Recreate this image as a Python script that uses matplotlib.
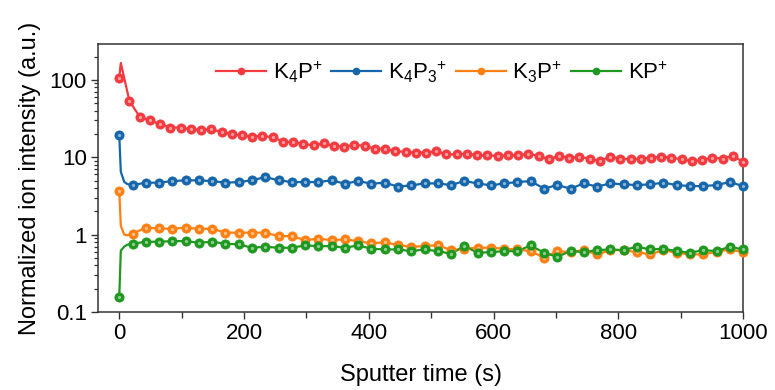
import numpy as np
import matplotlib
matplotlib.use("Agg")
import matplotlib.pyplot as plt
from matplotlib.lines import Line2D
from matplotlib.ticker import FixedLocator, FuncFormatter, LogLocator, NullFormatter, MultipleLocator
from matplotlib.colors import to_rgb

plt.rcParams['font.family'] = ['Liberation Sans', 'DejaVu Sans']
plt.rcParams['mathtext.fontset'] = 'custom'
plt.rcParams['mathtext.rm'] = 'Liberation Sans'
plt.rcParams['mathtext.it'] = 'Liberation Sans'
plt.rcParams['mathtext.bf'] = 'Liberation Sans:bold'
plt.rcParams['mathtext.default'] = 'rm'

# ---- data -------------------------------------------------------------
labels = [r'K$_{4}$P$^{+}$', r'K$_{4}$P$_{3}$$^{+}$', r'K$_{3}$P$^{+}$', r'KP$^{+}$']
colors = ['#F23A3F', '#1565AB', '#FF8012', '#1E981E']

# sampling times (s)
t_k4p = np.linspace(0, 1000, 62)
t_other = np.linspace(0, 1000, 48)

k4p = [107, 53, 33.5, 30, 26.7, 24.2, 24.2, 23, 22.5, 23, 21.2, 19.8, 19.2,
       18.5, 18.8, 18.2, 15.9, 15.7, 14.8, 14.3, 15.1, 14.0, 13.7, 14.5, 14.0,
       12.9, 12.9, 12.0, 11.7, 11.5, 11.5, 12.0, 10.9, 10.9, 11.1, 10.6, 10.6,
       10.4, 10.6, 10.6, 11.1, 10.4, 9.4, 10.4, 9.9, 10.1, 9.6, 8.9, 10.2, 9.6,
       9.4, 9.6, 9.9, 10.2, 9.9, 9.4, 8.9, 9.2, 9.9, 9.6, 10.4, 8.7]

k4p3 = [19.4, 4.37, 4.69, 4.69, 4.92, 5.03, 5.03, 4.92, 4.69, 4.78, 5.03, 5.55,
        5.03, 4.78, 4.78, 4.78, 5.03, 4.55, 4.92, 4.55, 4.69,
        4.17, 4.33, 4.59, 4.59, 4.37, 4.92, 4.59, 4.33, 4.59, 4.78, 4.92, 3.93,
        4.37, 3.93, 4.59, 4.17, 4.59, 4.46, 4.37, 4.46, 4.69, 4.37, 4.24, 4.24,
        4.37, 4.78, 4.24]

k3p = [3.65, 1.03, 1.23, 1.20, 1.19, 1.23, 1.19, 1.19, 1.06, 1.06, 1.06, 1.06,
       0.956, 0.956, 0.849, 0.885, 0.849, 0.867, 0.824, 0.769, 0.80,
       0.731, 0.697, 0.710, 0.731, 0.630, 0.657, 0.677, 0.677, 0.657, 0.643,
       0.612, 0.502, 0.612, 0.594, 0.630, 0.555, 0.630, 0.630, 0.594, 0.555,
       0.630, 0.583, 0.555, 0.555, 0.600, 0.643, 0.594]

kp = [0.157, 0.763, 0.809, 0.809, 0.824, 0.824, 0.786, 0.809, 0.763, 0.747,
      0.677, 0.697, 0.677, 0.677, 0.725, 0.710, 0.710, 0.677, 0.725, 0.657, 0.643,
      0.643, 0.612, 0.643, 0.612, 0.566, 0.710, 0.583, 0.594, 0.612, 0.612,
      0.725, 0.583, 0.518, 0.612, 0.594, 0.630, 0.643, 0.630, 0.697, 0.643,
      0.657, 0.612, 0.583, 0.630, 0.612, 0.697, 0.643]

# unmarked readings during the initial transient (s, value)
early_t = {0: [2.5], 1: [2.5, 8, 13], 2: [2.5, 8, 13], 3: [2.5, 8, 13]}
early_v = {0: [165], 1: [6.5, 4.8, 4.5], 2: [1.3, 1.0, 0.98], 3: [0.62, 0.70, 0.74]}

series = [(t_k4p, k4p), (t_other, k4p3), (t_other, k3p), (t_other, kp)]

# ---- figure -----------------------------------------------------------
fig = plt.figure(figsize=(7.75, 3.9), dpi=100)
ax = fig.add_axes([0.1265, 0.2, 0.8323, 0.687])


def lighten(c, f):
    r, g, b = to_rgb(c)
    return (r + (1 - r) * f, g + (1 - g) * f, b + (1 - b) * f)


for i, ((t, v), c) in enumerate(zip(series, colors)):
    tl = np.concatenate([t, early_t[i]])
    vl = np.concatenate([v, early_v[i]])
    order = np.argsort(tl)
    ax.plot(tl[order], vl[order], color=c, lw=1.6, zorder=2 + i * 0.1, clip_on=False)
    ax.plot(t, v, ls='none', marker='o', ms=6.6, mfc=c, mec=c, mew=0.6,
            zorder=3 + i * 0.1, clip_on=False)
    ax.plot(t, v, ls='none', marker='o', ms=2.4, mfc=lighten(c, 0.5), mec='none',
            zorder=3.05 + i * 0.1, clip_on=False)

ax.set_yscale('log')
ax.set_xlim(-34, 1000)
ax.set_ylim(0.1, 290)

ax.xaxis.set_major_locator(MultipleLocator(200))
ax.xaxis.set_minor_locator(MultipleLocator(100))
ax.yaxis.set_major_locator(FixedLocator([0.1, 1, 10, 100]))
ax.yaxis.set_minor_locator(LogLocator(base=10, subs=np.arange(2, 10)))
ax.yaxis.set_minor_formatter(NullFormatter())
ax.yaxis.set_major_formatter(FuncFormatter(lambda y, p: '{:g}'.format(y)))

spine_c = '#333333'
for s in ax.spines.values():
    s.set_color(spine_c)
    s.set_linewidth(1.1)

ax.tick_params(axis='both', which='major', direction='out', length=5, width=1.0,
               color=spine_c, labelsize=16, pad=3)
ax.tick_params(axis='x', which='minor', direction='out', length=4, width=1.0, color=spine_c)
ax.tick_params(axis='y', which='minor', direction='out', length=3, width=0.9, color=spine_c)

ax.set_xlabel('Sputter time (s)', fontsize=17, labelpad=14)
ax.set_ylabel('Normalized ion intensity (a.u.)', fontsize=17, labelpad=6)

handles = [Line2D([], [], color=c, lw=1.6, marker='o', ms=4.5, mfc=c, mec=c) for c in colors]
leg = ax.legend(handles, labels, ncol=4, frameon=False, fontsize=16,
                loc='center', bbox_to_anchor=(0.533, 0.895),
                handlelength=2.25, handletextpad=0.3, columnspacing=0.4,
                borderaxespad=0)

fig.savefig('out.png', dpi=100)
